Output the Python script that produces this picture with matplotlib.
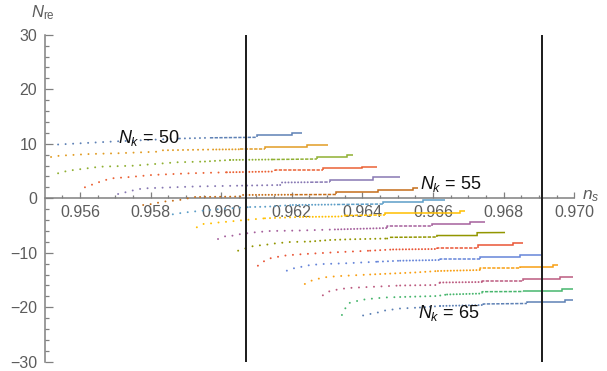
import matplotlib
matplotlib.use("Agg")
import matplotlib.pyplot as plt
from matplotlib.ticker import FixedLocator

plt.rcParams.update({
    "font.family": ["Liberation Sans", "DejaVu Sans"],
    "mathtext.fontset": "custom",
    "mathtext.rm": "Liberation Sans",
    "mathtext.it": "Liberation Sans:italic",
    "mathtext.bf": "Liberation Sans:bold",
    "lines.scale_dashes": False,
    "axes.unicode_minus": True,
})

# ---- data: n_s (x) and N_re (y) along each N_k curve ----
nk_values = [50, 51, 52, 53, 54, 55, 56, 57, 58, 59, 60, 61, 62, 63, 64, 65]

ns_50 = [0.95538, 0.95694, 0.95883, 0.95968, 0.96101, 0.96101, 0.96201, 0.96201, 0.96229]
nre_50 = [9.87, 10.42, 10.97, 11.10, 11.19, 11.61, 11.61, 11.89, 11.89]

ns_51 = [0.95518, 0.95543, 0.95628, 0.95705, 0.95818, 0.95835, 0.95977, 0.96053, 0.96124, 0.96124, 0.96243, 0.96243, 0.96303]
nre_51 = [7.58, 7.82, 8.13, 8.26, 8.55, 8.81, 8.95, 8.99, 8.99, 9.47, 9.47, 9.78, 9.78]

ns_52 = [0.95538, 0.95566, 0.95657, 0.95750, 0.95812, 0.95875, 0.95954, 0.96025, 0.96144, 0.96271, 0.96271, 0.96356, 0.96356, 0.96373]
nre_52 = [4.59, 5.06, 5.80, 5.98, 6.29, 6.61, 6.75, 7.03, 7.12, 7.21, 7.49, 7.49, 7.94, 7.94]

ns_53 = [0.95614, 0.95637, 0.95665, 0.95691, 0.95742, 0.95804, 0.95912, 0.96016, 0.96152, 0.96152, 0.96288, 0.96288, 0.96399, 0.96399, 0.96441]
nre_53 = [2.02, 2.57, 3.23, 3.67, 3.91, 4.28, 4.59, 4.77, 4.92, 5.19, 5.19, 5.47, 5.47, 5.74, 5.74]

ns_54 = [0.95708, 0.95736, 0.95762, 0.95784, 0.95847, 0.95926, 0.96045, 0.96167, 0.96172, 0.96252, 0.96308, 0.96308, 0.96430, 0.96430, 0.96507]
nre_54 = [0.79, 1.21, 1.65, 1.83, 1.98, 2.17, 2.31, 2.44, 2.90, 2.95, 2.99, 3.36, 3.36, 3.85, 3.85]

ns_55 = [0.95779, 0.95804, 0.95827, 0.95849, 0.95875, 0.95926, 0.96062, 0.96062, 0.96195, 0.96325, 0.96325, 0.96444, 0.96444, 0.96543, 0.96543, 0.96558]
nre_55 = [-1.23, -1.05, -0.73, -0.50, -0.40, 0.24, 0.33, 0.61, 0.66, 0.70, 1.10, 1.10, 1.52, 1.52, 1.80, 1.80]

ns_56 = [0.95863, 0.95892, 0.95917, 0.95997, 0.96082, 0.96130, 0.96203, 0.96328, 0.96458, 0.96458, 0.96572, 0.96572, 0.96634]
nre_56 = [-2.94, -2.64, -2.46, -1.96, -1.60, -1.54, -1.23, -1.14, -1.05, -0.73, -0.73, -0.37, -0.37]

ns_57 = [0.95931, 0.95951, 0.95974, 0.95997, 0.96019, 0.96067, 0.96124, 0.96223, 0.96337, 0.96351, 0.96464, 0.96464, 0.96677, 0.96677, 0.96691]
nre_57 = [-5.32, -4.68, -4.59, -4.40, -4.29, -3.98, -3.67, -3.43, -3.34, -3.16, -3.06, -2.70, -2.70, -2.24, -2.24]

ns_58 = [0.95991, 0.96016, 0.96033, 0.96056, 0.96096, 0.96138, 0.96223, 0.96322, 0.96470, 0.96470, 0.96597, 0.96597, 0.96705, 0.96705, 0.96747]
nre_58 = [-7.47, -6.86, -6.86, -6.55, -6.24, -6.00, -5.91, -5.72, -5.45, -5.08, -5.08, -4.66, -4.66, -4.29, -4.29]

ns_59 = [0.96048, 0.96096, 0.96116, 0.96155, 0.96195, 0.96252, 0.96308, 0.96365, 0.96470, 0.96478, 0.96611, 0.96611, 0.96725, 0.96725, 0.96804]
nre_59 = [-9.61, -8.66, -8.62, -8.26, -8.02, -7.93, -7.65, -7.52, -7.38, -7.16, -7.10, -6.83, -6.83, -6.31, -6.28]

ns_60 = [0.96104, 0.96130, 0.96152, 0.96186, 0.96237, 0.96322, 0.96422, 0.96487, 0.96611, 0.96611, 0.96728, 0.96728, 0.96827, 0.96827, 0.96855]
nre_60 = [-12.37, -11.14, -10.83, -10.46, -10.22, -9.91, -9.61, -9.39, -9.30, -9.03, -9.03, -8.66, -8.66, -8.26, -8.26]

ns_61 = [0.96186, 0.96203, 0.96229, 0.96252, 0.96288, 0.96351, 0.96444, 0.96507, 0.96620, 0.96620, 0.96733, 0.96733, 0.96847, 0.96847, 0.96909]
nre_61 = [-13.28, -12.88, -12.55, -12.24, -12.06, -11.93, -11.63, -11.45, -11.32, -11.19, -11.19, -10.77, -10.77, -10.40, -10.40]

ns_62 = [0.96237, 0.96257, 0.96280, 0.96300, 0.96337, 0.96422, 0.96549, 0.96614, 0.96733, 0.96733, 0.96847, 0.96847, 0.96940, 0.96940, 0.96954]
nre_62 = [-15.72, -15.08, -14.68, -14.44, -14.26, -13.98, -13.61, -13.34, -13.16, -12.88, -12.88, -12.55, -12.55, -12.29, -12.29]

ns_63 = [0.96288, 0.96308, 0.96331, 0.96359, 0.96416, 0.96507, 0.96611, 0.96620, 0.96739, 0.96739, 0.96855, 0.96855, 0.96960, 0.96960, 0.96997]
nre_63 = [-17.80, -17.01, -16.73, -16.46, -16.28, -16.00, -15.91, -15.45, -15.36, -15.12, -15.12, -14.84, -14.84, -14.44, -14.44]

ns_64 = [0.96342, 0.96359, 0.96396, 0.96416, 0.96464, 0.96507, 0.96611, 0.96640, 0.96739, 0.96739, 0.96855, 0.96855, 0.96966, 0.96966, 0.96997]
nre_64 = [-21.41, -19.27, -18.66, -18.48, -18.20, -18.11, -17.93, -17.65, -17.47, -17.14, -17.10, -16.95, -16.95, -16.59, -16.59]

ns_65 = [0.96402, 0.96422, 0.96444, 0.96464, 0.96507, 0.96563, 0.96620, 0.96742, 0.96742, 0.96866, 0.96866, 0.96974, 0.96974, 0.96997]
nre_65 = [-21.50, -21.23, -20.95, -20.59, -20.22, -20.04, -19.76, -19.58, -19.39, -19.30, -19.03, -19.03, -18.66, -18.66]

# Planck 1-sigma bounds on n_s
ns_bounds = [0.9607, 0.9691]

# axis ticks
x_ticks = [0.956, 0.958, 0.960, 0.962, 0.964, 0.966, 0.968, 0.970]
x_tick_labels = ["0.956", "0.958", "0.960", "0.962", "0.964", "0.966", "0.968", "0.970"]
y_ticks = [-30, -20, -10, 0, 10, 20, 30]

# curves carrying a text label, and where the label sits
labelled_nk = [50, 55, 65]
label_ns = [0.95707, 0.96563, 0.96558]
label_nre = [10.2, 1.65, -22.0]

# ---- styling ----
# Segment rendering codes: S sparse dots, M medium dots, D dense dots,
# H short dashes, L solid line (one code per segment between points)
seg_50 = "SSMHLLLL"
seg_51 = "SSSSSMDHLLLL"
seg_52 = "SSSSSSMDHLLLL"
seg_53 = "SSSSSSSDHHLLLL"
seg_54 = "SSSSSSMDDHLLLL"
seg_55 = "SSSSSMMDHLLLLLL"
seg_56 = "SSSSMMDHLLLL"
seg_57 = "SSSSSSMDDHLLLL"
seg_58 = "SSSSSSSDHHLLLL"
seg_59 = "SSSSSMMMDHLLLL"
seg_60 = "SSSSSSMDHHLLLL"
seg_61 = "SSSSSSMDHHLLLL"
seg_62 = "SSSSSMMDHHLLLL"
seg_63 = "SSSSSMMDHHLLLL"
seg_64 = "SSSSSMMDHHLLLL"
seg_65 = "SSSSSMDHHLLLL"

curve_colors = ["#5E81B5", "#E19C24", "#8FB032", "#EB6235", "#8778B3", "#C56E1A",
                "#5D9EC7", "#FFBF00", "#A5609D", "#929600", "#E95536", "#6685D9",
                "#F89F13", "#BC5B80", "#47B66D", "#5E81B5"]

curves = [
    (ns_50, nre_50, seg_50), (ns_51, nre_51, seg_51), (ns_52, nre_52, seg_52),
    (ns_53, nre_53, seg_53), (ns_54, nre_54, seg_54), (ns_55, nre_55, seg_55),
    (ns_56, nre_56, seg_56), (ns_57, nre_57, seg_57), (ns_58, nre_58, seg_58),
    (ns_59, nre_59, seg_59), (ns_60, nre_60, seg_60), (ns_61, nre_61, seg_61),
    (ns_62, nre_62, seg_62), (ns_63, nre_63, seg_63), (ns_64, nre_64, seg_64),
    (ns_65, nre_65, seg_65),
]

LW = 1.1
DOT_LW = 1.45
DOT_GAP = {"S": 5.4, "M": 3.6, "D": 2.3}
AXIS_GRAY = "#808080"
TEXT_GRAY = "#5c5c5c"


def draw_curve(ax, xs, ys, codes, color):
    """Draw a curve as runs of identically styled segments."""
    n = len(codes)
    i = 0
    while i < n:
        j = i
        while j + 1 < n and codes[j + 1] == codes[i]:
            j += 1
        px = xs[i:j + 2]
        py = ys[i:j + 2]
        code = codes[i]
        if code == "L":
            ax.plot(px, py, color=color, lw=LW, solid_capstyle="butt",
                    solid_joinstyle="miter", zorder=3)
        elif code == "H":
            ax.plot(px, py, color=color, lw=LW, dashes=(2.4, 1.0),
                    dash_capstyle="butt", zorder=3)
        else:
            ax.plot(px, py, color=color, lw=DOT_LW, dashes=(0.01, DOT_GAP[code]),
                    dash_capstyle="round", zorder=3)
        i = j + 1


fig = plt.figure(figsize=(6.07, 3.71), dpi=100)
ax = fig.add_axes([0, 0, 1, 1])
ax.set_xlim(0.953734, 0.970929)
ax.set_ylim(-31.688, 36.385)
ax.patch.set_alpha(0)

for (xs, ys, codes), color in zip(curves, curve_colors):
    draw_curve(ax, xs, ys, codes, color)

for xb in ns_bounds:
    ax.plot([xb, xb], [y_ticks[0], y_ticks[-1]], color="#1a1a1a", lw=1.4,
            solid_capstyle="butt", zorder=4)

# Axes crossing at (0.955, 0)
for side in ("top", "right"):
    ax.spines[side].set_visible(False)
ax.spines["left"].set_position(("data", 0.955))
ax.spines["left"].set_bounds(-30, 30)
ax.spines["bottom"].set_position(("data", 0))
ax.spines["bottom"].set_bounds(0.955, 0.970)
for side in ("left", "bottom"):
    ax.spines[side].set_color(AXIS_GRAY)
    ax.spines[side].set_linewidth(1.1)
    ax.spines[side].set_zorder(2)

x_minor = [round(0.9555 + 0.0005 * k, 4) for k in range(30)]
y_minor = list(range(-28, 30, 2))
ax.xaxis.set_major_locator(FixedLocator(x_ticks))
ax.set_xticklabels(x_tick_labels)
ax.xaxis.set_minor_locator(FixedLocator(x_minor))
ax.yaxis.set_major_locator(FixedLocator(y_ticks))
ax.yaxis.set_minor_locator(FixedLocator(y_minor))

ax.tick_params(axis="x", which="major", direction="in", length=4.4, width=0.9,
               color=AXIS_GRAY, labelcolor=TEXT_GRAY, labelsize=11.5, pad=5.0)
ax.tick_params(axis="x", which="minor", direction="in", length=2.5, width=0.9,
               color=AXIS_GRAY)
ax.tick_params(axis="y", which="major", direction="in", length=5.8, width=0.9,
               color=AXIS_GRAY, labelcolor=TEXT_GRAY, labelsize=11.5, pad=5.3)
ax.tick_params(axis="y", which="minor", direction="in", length=3.2, width=0.9,
               color=AXIS_GRAY)

# axis labels
ax.text(0.95495, 33.3, r"$N_{\mathrm{re}}$", ha="center", va="baseline",
        fontsize=12, color=TEXT_GRAY)
ax.text(0.97022, -0.1, r"$n_s$", ha="left", va="baseline",
        fontsize=12.5, color=TEXT_GRAY)

# curve labels
for nk, lx, ly in zip(labelled_nk, label_ns, label_nre):
    ax.text(lx, ly, r"$N_k$ = %d" % nk, ha="left", va="baseline",
            fontsize=13, color="#111111", zorder=5)

fig.savefig("out.png", dpi=100)
